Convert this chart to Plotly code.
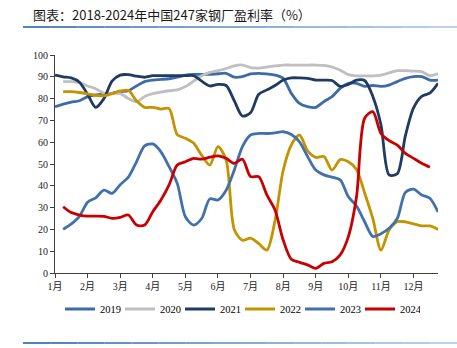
import plotly.graph_objects as go

# x positions in month units (roughly weekly sampling, 4 points per month)
x_month = [round(1 + i * 0.25, 2) for i in range(48)]
month_ticks = list(range(1, 13))
month_labels = [f"{m}月" for m in month_ticks]
N = None

y2019 = [76.3, 77.5, 78.4, 79.0, 80.9, 81.7, 82.1, 82.4, 83.2, 83.6, 85.8, 87.8,
         88.5, 88.8, 89.1, 89.8, 90.8, 91.1, 91.1, 91.1, 91.4, 91.6, 89.8, 90.1,
         91.3, 91.6, 91.3, 90.8, 89.3, 82.4, 77.8, 76.3, 76.0, 78.6, 80.9, 84.7,
         87.0, 87.0, 85.6, 86.0, 85.6, 86.2, 87.8, 89.3, 90.1, 90.1, 88.5, 88.5]
y2020 = [N, 87.8, 87.8, 87.3, 85.8, 84.5, 82.5, 82.3, 82.3, 80.0, 78.5, 81.0,
         82.3, 83.0, 83.6, 84.0, 85.5, 88.0, 90.5, 92.0, 92.8, 93.8, 95.0, 95.4,
         94.2, 94.0, 94.5, 95.0, 95.4, 95.4, 95.4, 95.4, 95.4, 95.2, 94.5, 93.0,
         91.0, 90.4, 90.4, 90.4, 90.8, 91.8, 92.8, 92.8, 92.6, 92.4, 90.5, 91.5]
y2021 = [90.8, 90.0, 89.5, 87.5, 82.0, 76.0, 80.0, 88.0, 90.8, 91.0, 90.3, 89.8,
         90.5, 90.5, 90.5, 90.5, 90.5, 90.5, 88.0, 85.8, 86.5, 86.0, 79.0, 72.0,
         73.5, 82.0, 84.0, 86.0, 88.5, 89.5, 89.5, 89.3, 88.5, 88.5, 88.3, 85.6,
         86.5, 88.5, 88.3, 81.0, 68.0, 45.0, 45.5, 63.0, 75.7, 81.0, 82.5, 87.0]
y2022 = [N, 83.2, 83.2, 82.8, 82.2, 81.5, 81.3, 82.3, 83.5, 83.8, 79.0, 76.0,
         76.0, 75.2, 75.4, 63.5, 61.8, 59.6, 54.0, 49.5, 58.0, 51.8, 20.0, 15.0,
         16.0, 13.5, 10.5, 24.0, 47.0, 58.7, 63.3, 56.0, 53.0, 53.4, 47.2, 52.0,
         51.0, 47.5, 36.7, 25.0, 10.5, 19.7, 23.5, 23.5, 22.5, 21.6, 21.6, 20.0]
y2023 = [N, 20.0, 22.5, 26.0, 32.5, 34.5, 38.0, 36.5, 40.5, 44.0, 51.0, 58.3,
         59.2, 55.6, 48.8, 41.1, 25.8, 22.0, 25.0, 34.0, 33.5, 38.0, 47.2, 58.0,
         63.3, 64.0, 64.0, 64.3, 64.8, 63.5, 60.2, 53.4, 47.2, 45.0, 44.0, 42.7,
         35.0, 30.7, 23.5, 16.8, 18.0, 20.5, 25.0, 37.0, 38.5, 35.8, 34.3, 28.0]
y2024 = [N, 30.4, 27.7, 26.6, 26.1, 26.1, 26.0, 25.1, 25.5, 26.6, 22.0, 22.0,
         28.1, 33.5, 40.4, 49.5, 51.0, 52.6, 52.2, 53.1, 53.7, 52.6, 50.3, 52.2,
         44.2, 44.2, 35.8, 28.9, 15.1, 6.3, 4.9, 3.7, 2.1, 4.4, 5.2, 8.3,
         16.7, 35.0, 71.0, 74.0, 64.0, 60.7, 58.7, 54.9, 52.6, 50.3, 48.5, N]

series = [
    ("2019", y2019, "#3D6BA7"),
    ("2020", y2020, "#BFBFBF"),
    ("2021", y2021, "#1F3A63"),
    ("2022", y2022, "#C39300"),
    ("2023", y2023, "#4171AA"),
    ("2024", y2024, "#C80000"),
]

fig = go.Figure()
for name, ys, col in series:
    fig.add_trace(go.Scatter(
        x=x_month, y=ys, name=name, mode="lines",
        line=dict(color=col, width=2.8, shape="spline", smoothing=0.8),
        connectgaps=False,
    ))

W, H = 457, 348
L, R, T, B = 55, 19, 55, 75
pw, ph = W - L - R, H - T - B

def px_x(p):
    return (p - L) / pw

def px_y(p):
    return (H - B - p) / ph

def hexlerp(c1, c2, t):
    a = [int(c1[i:i + 2], 16) for i in (1, 3, 5)]
    b = [int(c2[i:i + 2], 16) for i in (1, 3, 5)]
    return "#" + "".join(f"{round(a[k] + (b[k] - a[k]) * t):02x}" for k in range(3))

shapes = []
nseg = 16
for ypix, c1, c2, w in [(27, "#2566AE", "#A7C6E6", 1.6), (343, "#1F62AC", "#A9C8E8", 1.6)]:
    for s in range(nseg):
        x0 = 23 + (W - 23) * s / nseg
        x1 = 23 + (W - 23) * (s + 1) / nseg
        shapes.append(dict(type="line", xref="paper", yref="paper",
                           x0=px_x(x0), x1=px_x(x1), y0=px_y(ypix), y1=px_y(ypix),
                           line=dict(color=hexlerp(c1, c2, s / (nseg - 1)), width=w)))

serif = "Liberation Serif, Times New Roman, Noto Sans CJK SC, serif"

fig.update_layout(
    width=W, height=H,
    margin=dict(l=L, r=R, t=T, b=B),
    paper_bgcolor="white", plot_bgcolor="white",
    showlegend=True,
    title=dict(text="图表：2018-2024年中国247家钢厂盈利率（%）",
               x=33 / W, xanchor="left", xref="container",
               y=1 - 15 / H, yanchor="middle", yref="container",
               font=dict(family="Noto Sans CJK SC, Microsoft YaHei, sans-serif", size=13, color="#1a1a1a")),
    legend=dict(orientation="h", x=px_x(240), xanchor="center",
                y=px_y(309), yanchor="middle",
                font=dict(family=serif, size=10.5, color="#000"),
                itemwidth=30, entrywidth=15, entrywidthmode="pixels",
                bgcolor="rgba(0,0,0,0)"),
    shapes=shapes,
    xaxis=dict(range=[1, 12.75], tickmode="array", tickvals=month_ticks,
               ticktext=month_labels, showgrid=False, zeroline=False,
               showline=True, linecolor="#404040", linewidth=1,
               ticks="outside", ticklen=4, tickcolor="#404040",
               tickfont=dict(family=serif, size=10, color="#222")),
    yaxis=dict(range=[0, 100], dtick=10, showgrid=False, zeroline=False,
               showline=True, linecolor="#404040", linewidth=1,
               ticks="outside", ticklen=4, tickcolor="#404040",
               tickfont=dict(family=serif, size=10, color="#222")),
)

fig.write_html("out.html")
